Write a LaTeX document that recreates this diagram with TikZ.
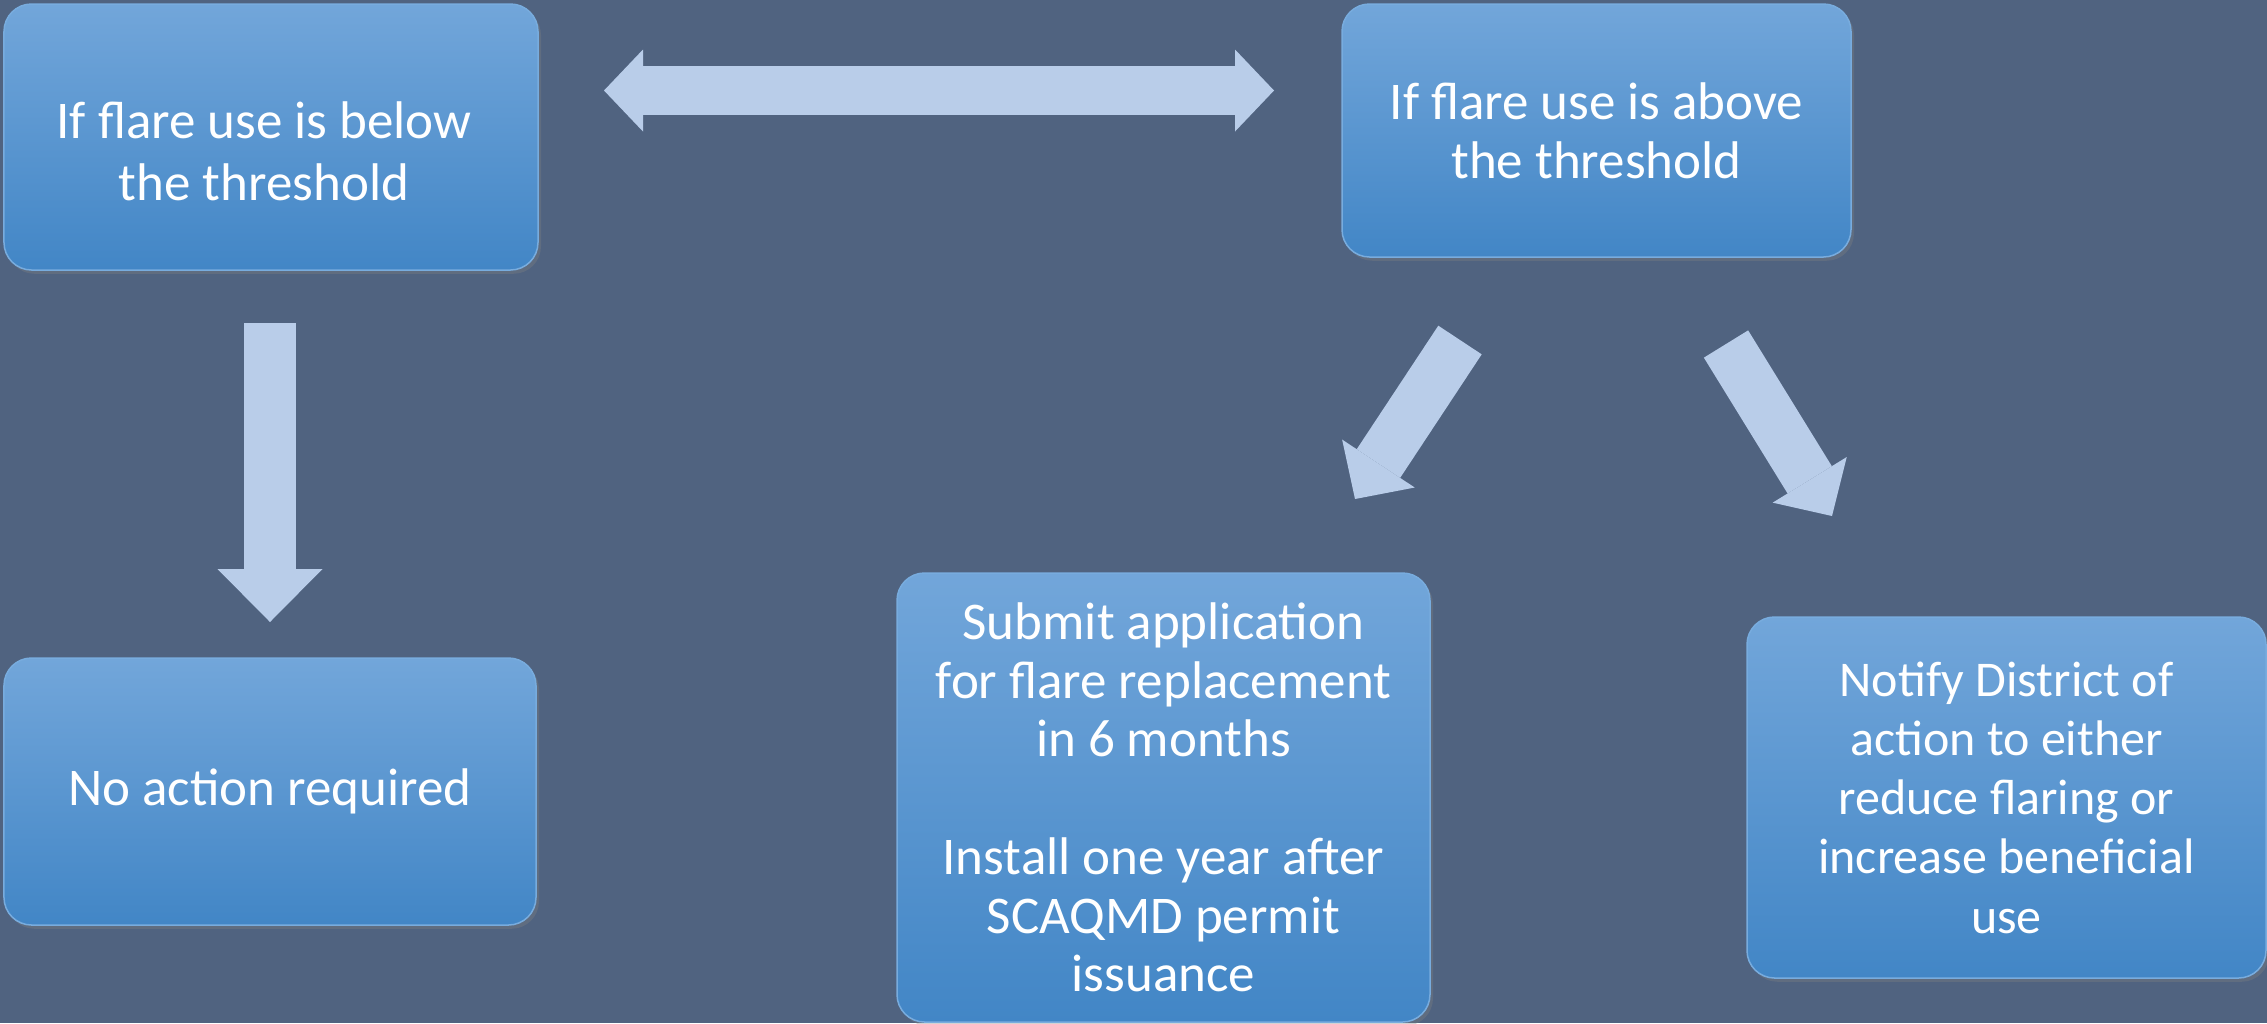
\documentclass[tikz,border=0pt]{standalone}
\usepackage{fontspec}
\setmainfont{Carlito}
\usetikzlibrary{arrows.meta,shadows}

\definecolor{bgslate}{RGB}{80,99,128}
\definecolor{boxtop}{RGB}{114,166,218}
\definecolor{boxbot}{RGB}{66,134,198}
\definecolor{boxedge}{RGB}{120,172,222}
\definecolor{arrowfill}{RGB}{185,205,233}

\begin{document}
\begin{tikzpicture}[x=0.4pt,y=0.4pt,yscale=-1,xscale=1,
  flowbox/.style={rectangle, rounded corners=11pt, top color=boxtop, bottom color=boxbot,
    draw=boxedge, line width=0.6pt, inner sep=0pt, align=center, text=white,
    font=\fontsize{21.2}{23.5}\selectfont,
    drop shadow={opacity=0.35, shadow xshift=1.2pt, shadow yshift=-1.5pt}},
  fatarrow/.style={draw=arrowfill, line width=20.8pt,
    -{Triangle[width=34.8pt,length=17pt,line width=0pt]}}]
%set diagram size 2267 x 1023
\fill [bgslate] (0,0) rectangle (2267,1023);
\useasboundingbox (0,0) rectangle (2267,1023);

% Text Node
\node [flowbox, minimum width=213.6pt, minimum height=106.4pt] (below) at (271,137) {};
\node [text=white, align=center, font=\fontsize{21.2}{24.8}\selectfont] (belowtext) at (264,151)
  {If flare use is below\\the threshold};
% Text Node
\node [flowbox, minimum width=203.6pt, minimum height=101.2pt] (above) at (1596.5,130.5)
  {If flare use is above\\the threshold};
% Text Node
\node [flowbox, minimum width=212.8pt, minimum height=106.8pt] (noaction) at (270,791.5)
  {No action required};
% Text Node
\node [flowbox, minimum width=213.2pt, minimum height=179.6pt] (submit) at (1163.5,797.5)
  {Submit application\\for flare replacement\\in 6 months\\[23.5pt]Install one year after\\SCAQMD permit\\issuance};
% Text Node
\node [flowbox, minimum width=207.6pt, minimum height=144.4pt, font=\fontsize{20}{23.7}\selectfont]
  (notify) at (2006.5,797.5)
  {Notify District of\\action to either\\reduce flaring or\\increase beneficial\\use};

% arrow ends
\coordinate (dbl-l) at (604,90.5);
\coordinate (dbl-r) at (1274,90.5);
\coordinate (down-s) at (270,323);
\coordinate (down-e) at (270,622);
\coordinate (left-s) at (1460,340);
\coordinate (left-e) at (1355,499);
\coordinate (right-s) at (1726,344);
\coordinate (right-e) at (1832,516);

%Straight Lines
\draw [draw=arrowfill, line width=19.6pt,
  {Triangle[width=32.8pt,length=15.6pt,line width=0pt]}-{Triangle[width=32.8pt,length=15.6pt,line width=0pt]}]
  (dbl-l) -- (dbl-r);
%Straight Lines
\draw [fatarrow, -{Triangle[width=42pt,length=21.2pt,line width=0pt]}] (down-s) -- (down-e);
%Straight Lines
\draw [fatarrow] (left-s) -- (left-e);
%Straight Lines
\draw [fatarrow] (right-s) -- (right-e);

\end{tikzpicture}
\end{document}
